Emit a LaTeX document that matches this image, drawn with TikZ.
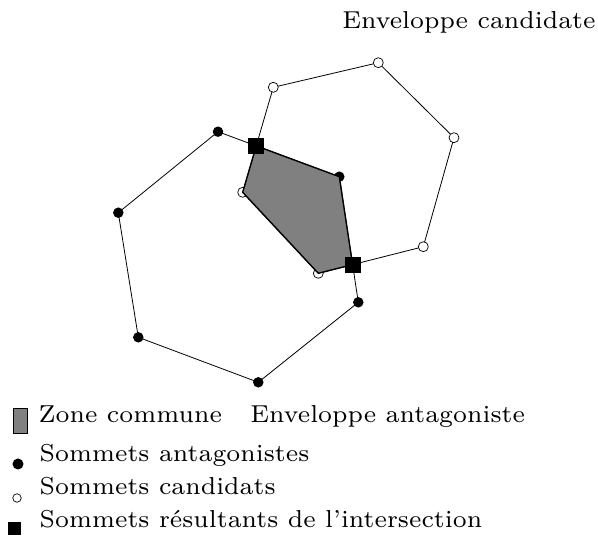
\documentclass[tikz,border=0pt]{standalone}
\usepackage{tikz}
\usetikzlibrary{calc}
\DeclareFontFamily{TU}{lmsept}{}
\DeclareFontShape{TU}{lmsept}{m}{n}{<-> "[lmroman7-regular]:+tlig;"}{}

\begin{document}
\begin{tikzpicture}[x=1pt, y=-1pt, line width=0.8pt,
  antag/.style={circle, fill=black, inner sep=0pt, minimum size=10.5pt},
  cand/.style={circle, draw=black, fill=white, line width=0.7pt, inner sep=0pt, minimum size=10pt},
  inter/.style={rectangle, fill=black, inner sep=0pt, minimum size=16pt},
  txt/.style={inner sep=0pt, font=\fontfamily{lmsept}\fontsize{24.5}{30}\selectfont}]
  \useasboundingbox (0,0) rectangle (598,537);

  % enveloppe antagoniste
  \coordinate (A1) at (218,131.7);
  \coordinate (A2) at (339.3,176.7);
  \coordinate (A3) at (358.3,302.3);
  \coordinate (A4) at (258.3,382.3);
  \coordinate (A5) at (138.3,337.3);
  \coordinate (A6) at (118.3,212.7);

  % enveloppe candidate
  \coordinate (C1) at (273.3,87.3);
  \coordinate (C2) at (378.3,62.7);
  \coordinate (C3) at (454,137.7);
  \coordinate (C4) at (423.3,246.7);
  \coordinate (C5) at (318.3,273.3);
  \coordinate (C6) at (242.7,192.3);

  % points d'intersection
  \coordinate (S1) at (intersection of A1--A2 and C6--C1);
  \coordinate (S2) at (intersection of A2--A3 and C4--C5);

  \draw (A1) -- (A2) -- (A3) -- (A4) -- (A5) -- (A6) -- cycle;
  \draw (C1) -- (C2) -- (C3) -- (C4) -- (C5) -- (C6) -- cycle;

  \foreach \i in {1,...,6} {
    \node[antag] (a\i) at (A\i) {};
    \node[cand] (c\i) at (C\i) {};
  }

  % zone commune
  \draw[fill=gray, line width=1.4pt, line join=round] (S1) -- (A2) -- (S2) -- (C5) -- (C6) -- cycle;

  \node[inter] (s1) at (S1) {};
  \node[inter] (s2) at (S2) {};

  \node[txt, anchor=base east] (envcand) at (596,29) {Enveloppe candidate};

  % legende
  \node[rectangle, draw=black, fill=gray, line width=0.6pt, inner sep=0pt,
        minimum width=14pt, minimum height=25pt] (lzone) at (20,420.5) {};
  \node[txt, anchor=base west] (tzone) at (38.3,422.7) {Zone commune};
  \node[txt, anchor=base west] (tenvant) at (250,422.7) {Enveloppe antagoniste};
  \node[antag, minimum size=11pt] (lantag) at (18,464) {};
  \node[txt, anchor=base west] (tantag) at (39.3,461.7) {Sommets antagonistes};
  \node[cand, minimum size=8.5pt] (lcand) at (17,498) {};
  \node[txt, anchor=base west] (tcand) at (39.3,495) {Sommets candidats};
  \node[inter, minimum size=13pt] (linter) at (14.5,529) {};
  \node[txt, anchor=base west] (tinter) at (39.3,527.3) {Sommets résultants de l’intersection};
\end{tikzpicture}
\end{document}
